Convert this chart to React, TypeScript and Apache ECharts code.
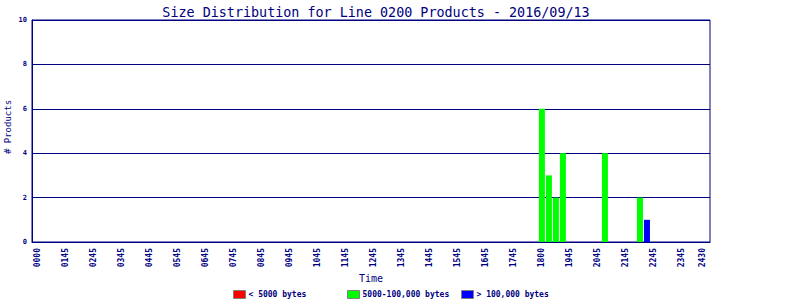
import React, { useEffect, useRef } from "react";
import * as echarts from "echarts";

const binTimes = [18.0, 18.25, 18.5, 18.75, 20.25, 21.5, 21.75];
const smallCounts = [0, 0, 0, 0, 0, 0, 0];
const mediumCounts = [6, 3, 2, 4, 4, 2, 0];
const largeCounts = [0, 0, 0, 0, 0, 0, 1];

const xTickValues = [0, 1, 2, 3, 4, 5, 6, 7, 8, 9, 10, 11, 12, 13, 14, 15, 16, 17, 18, 19, 20, 21, 22, 23, 23.75];
const xTickLabels = [
  "0000", "0145", "0245", "0345", "0445", "0545", "0645", "0745", "0845", "0945",
  "1045", "1145", "1245", "1345", "1445", "1545", "1645", "1745", "1800", "1945",
  "2045", "2145", "2245", "2345", "2430",
];

const seriesNames = ["< 5000 bytes", "5000-100,000 bytes", "> 100,000 bytes"];
const seriesColors = ["#ff0000", "#00ff00", "#0000ff"];

const NAVY = "#000080";
const MONO = "DejaVu Sans Mono";

export default function App() {
  const ref = useRef<HTMLDivElement>(null);
  useEffect(() => {
    if (!ref.current) return;
    document.body.style.margin = "0";
    const chart = echarts.init(ref.current, undefined, { renderer: "svg" });
    const toPairs = (vals: number[]) =>
      binTimes.map((t, i) => [t, vals[i]]).filter((p) => p[1] > 0);
    const allCounts = [smallCounts, mediumCounts, largeCounts];
    const legendLefts = [233, 347, 461];
    chart.setOption({
      animation: false,
      backgroundColor: "#ffffff",
      title: {
        text: "Size Distribution for Line 0200 Products - 2016/09/13",
        left: 371,
        textAlign: "center",
        top: 1,
        textStyle: { color: NAVY, fontFamily: MONO, fontSize: 13.4, fontWeight: "normal" },
      },
      legend: seriesNames.map((name, i) => ({
        data: [name],
        left: legendLefts[i],
        top: 290,
        itemWidth: 12,
        itemHeight: 8,
        itemGap: 4,
        padding: 0,
        selectedMode: false,
        textStyle: { color: NAVY, fontFamily: MONO, fontSize: 8, fontWeight: "bold", padding: [0, 0, 0, -2] },
        itemStyle: { borderColor: "#808080", borderWidth: 1 },
        icon: "rect",
      })),
      grid: {
        left: 32,
        right: 90,
        top: 20,
        bottom: 58,
        outerBoundsMode: "none",
        containLabel: false,
        show: true,
        borderColor: NAVY,
        borderWidth: 1,
        backgroundColor: "#ffffff",
      },
      xAxis: {
        type: "value",
        min: -0.2,
        max: 24,
        name: "Time",
        nameLocation: "middle",
        nameGap: 31,
        nameMoveOverlap: false,
        nameTextStyle: { color: NAVY, fontFamily: MONO, fontSize: 10 },
        axisLine: { show: true, onZero: false, lineStyle: { color: NAVY, width: 1 } },
        axisTick: { show: false },
        splitLine: { show: false },
        axisLabel: {
          customValues: xTickValues,
          rotate: 90,
          margin: 6,
          color: NAVY,
          fontFamily: MONO,
          fontSize: 8,
          fontWeight: "bold",
          formatter: (v: number) => {
            const idx = xTickValues.indexOf(v);
            return idx >= 0 ? xTickLabels[idx] : "";
          },
        },
      },
      yAxis: {
        type: "value",
        min: 0,
        max: 10,
        interval: 2,
        name: "# Products",
        nameLocation: "middle",
        nameGap: 20,
        nameMoveOverlap: false,
        nameTextStyle: { color: NAVY, fontFamily: MONO, fontSize: 9, padding: [0, 0, 0, 8] },
        axisLine: { show: true, onZero: false, lineStyle: { color: NAVY, width: 1 } },
        axisTick: { show: false },
        splitLine: { show: true, lineStyle: { color: NAVY, width: 1 } },
        axisLabel: { color: NAVY, fontFamily: MONO, fontSize: 7, fontWeight: "bold", margin: 5 },
      },
      series: seriesNames.map((name, i) => ({
        name,
        type: "bar",
        stack: "total",
        barWidth: 6,
        itemStyle: { color: seriesColors[i] },
        data: toPairs(allCounts[i]),
      })),
    });
    return () => chart.dispose();
  }, []);
  return <div ref={ref} style={{ width: 800, height: 300 }} />;
}
